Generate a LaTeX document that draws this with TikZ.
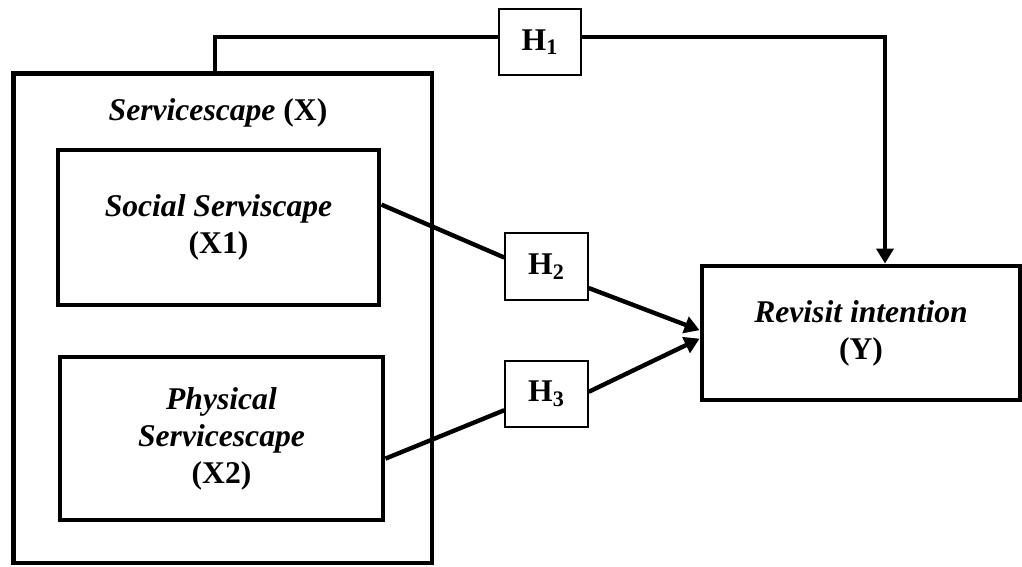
\documentclass[tikz,border=0pt]{standalone}
\usepackage{fontspec}
\setmainfont{Liberation Serif}
\usetikzlibrary{arrows.meta}

\begin{document}
\begin{tikzpicture}[x=0.02cm, y=-0.02cm,
    font=\fontsize{18}{21}\selectfont\bfseries,
    bigbox/.style={rectangle, draw, line width=2.8pt, align=center, inner sep=0pt},
    hbox/.style={rectangle, draw, line width=1.1pt, minimum width=1.65cm, minimum height=1.33cm},
    link/.style={line width=2.5pt},
    arrow/.style={link, -{Triangle[length=0.3cm, width=0.34cm]}}]
  \useasboundingbox (0,0) rectangle (1022,566);
  \node (outer) [bigbox, minimum width=8.38cm, minimum height=9.8cm] at (222.5,318) {};
  \node (title) at (218,113) {\textit{Servicescape} (X)};
  \node (social) [bigbox, minimum width=6.42cm, minimum height=3.1cm] at (218.5,227.5) {\textit{Social Serviscape}\\(X1)};
  \node (physical) [bigbox, minimum width=6.46cm, minimum height=3.26cm] at (221.5,438.5) {\textit{Physical}\\\textit{Servicescape}\\(X2)};
  \node (revisit) [bigbox, minimum width=6.36cm, minimum height=2.68cm] at (861,333) {\textit{Revisit intention}\\(Y)};
  \node (h1) [hbox] at (540,42) {H\textsubscript{1}};
  \node (h2) [hbox] at (546.5,266.5) {H\textsubscript{2}};
  \node (h3) [hbox] at (546.5,394) {H\textsubscript{3}};
  \coordinate (h1a) at (215,37);
  \coordinate (h1b) at (885,37);
  \draw[link] (outer.north -| h1a) -- (h1a) -- (h1a -| h1.west);
  \draw[arrow] (h1b -| h1.east) -- (h1b) -- (revisit.north -| h1b);
  \draw[link] (social.8) -- (h2.168);
  \draw[arrow] (h2.-27) -- (revisit.179);
  \draw[link] (physical.-7) -- (h3.201);
  \draw[arrow] (h3.3) -- (revisit.182);
\end{tikzpicture}
\end{document}
